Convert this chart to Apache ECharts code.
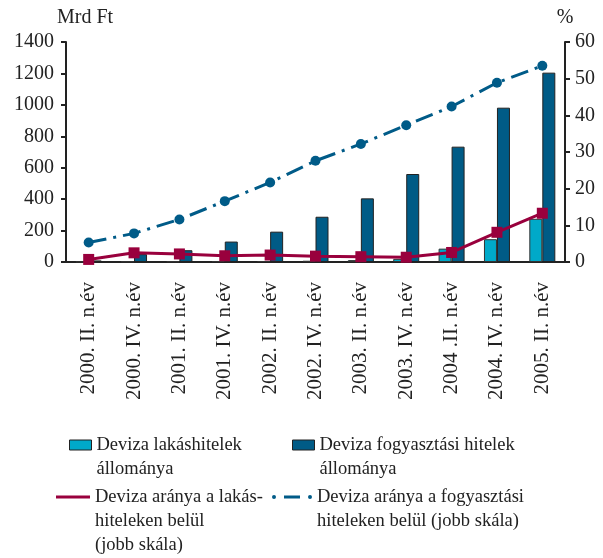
<!DOCTYPE html>
<html>
<head>
<meta charset="utf-8">
<script src="https://cdn.jsdelivr.net/npm/echarts@6/dist/echarts.min.js"></script>
<style>
  html, body { margin: 0; padding: 0; background: #fff; }
  #main { width: 603px; height: 558px; }
</style>
</head>
<body>
<div id="main"></div>
<script>
// adatok
var categories = ['2000. II. n.év', '2000. IV. n.év', '2001. II. n.év', '2001. IV. n.év',
    '2002. II. n.év', '2002. IV. n.év', '2003. II. n.év', '2003. IV. n.év',
    '2004 .II. n.év', '2004. IV. n.év', '2005. II. n.év'];
var lakasHitel = [2, 3, 4, 5, 6, 8, 12, 20, 85, 145, 275];
var fogyHitel = [10, 50, 75, 130, 193, 288, 405, 560, 734, 982, 1205];
var lakasArany = [0.7, 2.5, 2.2, 1.7, 1.9, 1.6, 1.45, 1.3, 2.6, 8.1, 13.3];
var fogyArany = [5.3, 7.8, 11.6, 16.6, 21.7, 27.6, 32.2, 37.3, 42.4, 48.9, 53.5];

var names = ['Deviza lakáshitelek\nállománya', 'Deviza fogyasztási hitelek\nállománya',
    'Deviza aránya a lakás-\nhiteleken belül\n(jobb skála)',
    'Deviza aránya a fogyasztási\nhiteleken belül (jobb skála)'];

var font = 'Liberation Serif';
var ink = '#222';

var myChart = echarts.init(document.getElementById('main'));

// a jelmagyarázat ikonja az első sorhoz igazodjon: üres sorok elé
var pad = function (name) {
    var n = name.split('\n').length;
    return new Array(n).join('\n') + name;
};
var legendText = { fontFamily: font, fontSize: 18.5, color: ink, lineHeight: 24 };
var plain = function (v) { return String(v); };

var option = {
    animation: false,
    grid: { left: 66, right: 38, top: 42, bottom: 296 },
    legend: [{
        left: 69, top: 409, padding: 0, itemWidth: 22, itemHeight: 10,
        textStyle: legendText, formatter: pad,
        data: [{ name: names[0], icon: 'rect', itemStyle: { color: '#00a9c9', borderColor: '#222', borderWidth: 1 } }]
    }, {
        left: 292, top: 409, padding: 0, itemWidth: 22, itemHeight: 10,
        textStyle: legendText, formatter: pad,
        data: [{ name: names[1], icon: 'rect', itemStyle: { color: '#005b86', borderColor: '#222', borderWidth: 1 } }]
    }, {
        left: 56, top: 437, padding: 0, itemWidth: 34, itemHeight: 3,
        textStyle: legendText, formatter: pad,
        data: [{ name: names[2], icon: 'rect', itemStyle: { color: '#99003d', borderWidth: 0 } }]
    }, {
        left: 272, top: 461, padding: 0, itemWidth: 40, itemHeight: 4,
        textStyle: legendText, formatter: pad,
        data: [{
            name: names[3],
            icon: 'path://M0,5a2,2 0 1,0 4,0a2,2 0 1,0 -4,0z M12,3.5h16v3h-16z M36,5a2,2 0 1,0 4,0a2,2 0 1,0 -4,0z',
            itemStyle: { color: '#005b88', borderWidth: 0 }
        }]
    }],
    xAxis: {
        type: 'category',
        data: categories,
        axisLine: { lineStyle: { color: ink, width: 2 } },
        axisTick: { length: 6, lineStyle: { color: ink, width: 2 } },
        axisLabel: { rotate: 90, margin: 20, fontFamily: font, fontSize: 21, color: ink }
    },
    yAxis: [{
        type: 'value', min: 0, max: 1400, interval: 200,
        name: 'Mrd Ft', nameGap: 14,
        nameTextStyle: { fontFamily: font, fontSize: 20, color: ink, align: 'left', padding: [0, 0, 0, -9] },
        splitLine: { show: false },
        axisLine: { show: true, lineStyle: { color: ink, width: 2 } },
        axisTick: { show: true, length: 5, lineStyle: { color: ink, width: 2 } },
        axisLabel: { margin: 12, fontFamily: font, fontSize: 20, color: ink, formatter: plain }
    }, {
        type: 'value', min: 0, max: 60, interval: 10,
        name: '%', nameGap: 14,
        nameTextStyle: { fontFamily: font, fontSize: 20, color: ink },
        splitLine: { show: false },
        axisLine: { show: true, lineStyle: { color: ink, width: 2 } },
        axisTick: { show: true, length: 5, lineStyle: { color: ink, width: 2 } },
        axisLabel: { margin: 10, fontFamily: font, fontSize: 20, color: ink, formatter: plain }
    }],
    series: [{
        name: names[0], type: 'bar', data: lakasHitel,
        barWidth: 13, barGap: '0%',
        itemStyle: { color: '#00a9c9', borderColor: '#333', borderWidth: 1 }
    }, {
        name: names[1], type: 'bar', data: fogyHitel,
        barWidth: 13, barGap: '0%',
        itemStyle: { color: '#005b86', borderColor: '#222', borderWidth: 1 }
    }, {
        name: names[2], type: 'line', yAxisIndex: 1, data: lakasArany,
        symbol: 'rect', symbolSize: 11,
        lineStyle: { color: '#99003d', width: 3 },
        itemStyle: { color: '#99003d' }
    }, {
        name: names[3], type: 'line', yAxisIndex: 1, data: fogyArany,
        symbol: 'circle', symbolSize: 10,
        lineStyle: { color: '#005b88', width: 3, type: [18, 7, 3, 7] },
        itemStyle: { color: '#005b88' }
    }]
};

myChart.setOption(option);
</script>
</body>
</html>
